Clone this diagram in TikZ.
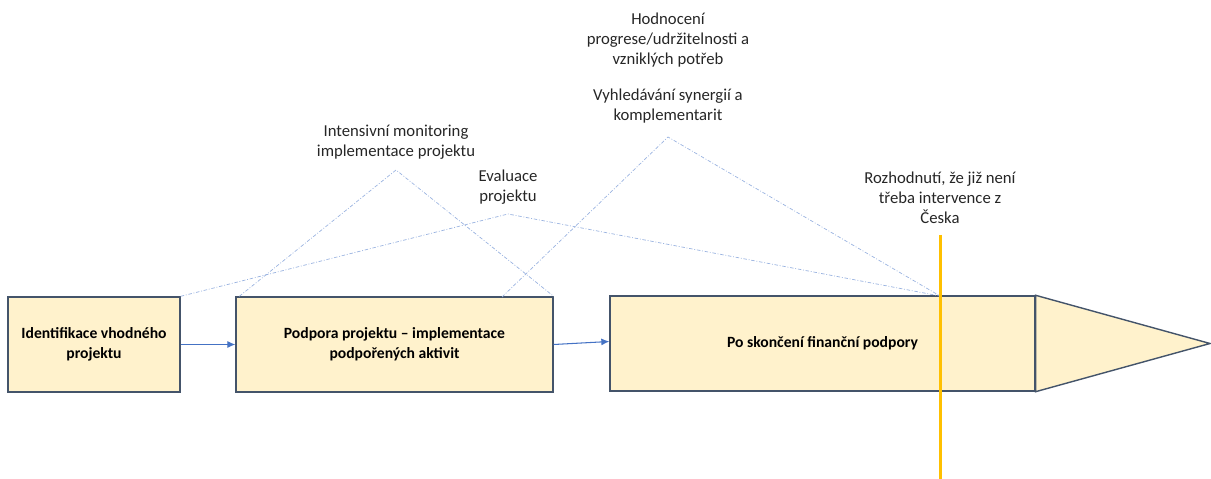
\documentclass[tikz,border=0pt]{standalone}
\usepackage{fontspec}
\setmainfont{Carlito}
\usepackage{tikz}
\usetikzlibrary{arrows.meta, positioning}
\definecolor{boxfill}{HTML}{FFF2CC}
\definecolor{boxline}{HTML}{44546A}
\definecolor{arrowblue}{HTML}{4472C4}
\definecolor{linkblue}{HTML}{9AB3E0}
\definecolor{stopline}{HTML}{FFC000}
\tikzset{phase/.style={draw=boxline, fill=boxfill, thick, minimum height=1.9cm, align=center, font=\fontsize{8.9}{11.2}\selectfont\bfseries, inner sep=0pt},
	note/.style={align=center, font=\fontsize{9.5}{11.4}\selectfont, inner sep=1pt, text=black!85},
	link/.style={linkblue, thin, dash pattern=on 2pt off 1pt on 0.5pt off 1pt},
	flow/.style={arrowblue, semithick, -{Latex[length=1.6mm, width=1.4mm]}}}

\begin{document}
\begin{tikzpicture}[x=0.02cm,y=-0.02cm]
			\useasboundingbox (0,0) rectangle (1211,479);
			\node[phase, minimum width=3.44cm] (ident) at (94,344.5) {Identifikace vhodného\\projektu};
			\node[phase, minimum width=6.34cm] (podpora) at (394.5,344.5) {Podpora projektu -- implementace\\podpořených aktivit};
			\node[phase, minimum width=8.5cm] (po) at (822.5,343.5) {Po skončení finanční podpory};
			\filldraw[draw=boxline, fill=boxfill, thick] (po.north east) -- (1210,343.5) -- (po.south east) -- cycle;
			\draw[flow] (ident) -- (podpora);
			\draw[flow] (podpora.east) -- ([yshift=0.04cm]po.west);
			% labels above the phases
			\node[note] (monitor) at (396,142) {Intensivní monitoring\\implementace projektu};
			\node[note] (evaluace) at (508,187) {Evaluace\\projektu};
			\node[note] (hodnoceni) at (668,40) {Hodnocení\\progrese/udržitelnosti a\\vzniklých potřeb};
			\node[note] (synergie) at (668,106.5) {Vyhledávání synergií a\\komplementarit};
			\node[note] (rozhodnuti) at (940,198) {Rozhodnutí, že již není\\třeba intervence z\\Česka};
			\coordinate (monitorTop) at (396,170);
			\coordinate (evaluaceTop) at (508,214);
			\coordinate (synergieTop) at (668,137);
			\coordinate (stopTop) at (940,235);
			\coordinate (stopBottom) at (940,479);
			\coordinate (stopHit) at (940,296);
			\coordinate (synergieFoot) at (502,297);
			\draw[link] ([xshift=0.08cm]podpora.north west) -- (monitorTop) -- (podpora.north east);
			\draw[link] (ident.north east) -- (evaluaceTop) -- (stopHit);
			\draw[link] (synergieFoot) -- (synergieTop) -- (stopHit);
			% end of intervention
			\draw[stopline, line width=0.06cm] (stopTop) -- (stopBottom);
		\end{tikzpicture}
\end{document}
